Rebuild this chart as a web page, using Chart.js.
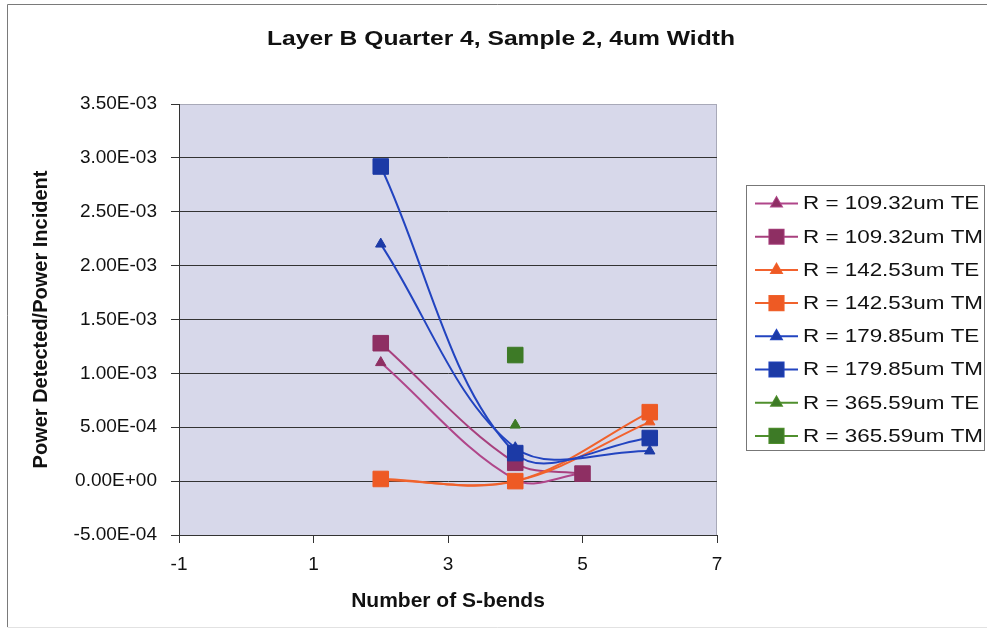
<!DOCTYPE html>
<html>
<head>
<meta charset="utf-8">
<title>Layer B Quarter 4, Sample 2, 4um Width</title>
<script src="https://cdn.jsdelivr.net/npm/chart.js@4"></script>
<style>
  body { margin: 0; background: #fff; }
</style>
</head>
<body>
<canvas id="sbendChart" width="987" height="631"></canvas>
<script>
// measured power ratio vs. number of S-bends
var seriesNames = [
  'R = 109.32um TE', 'R = 109.32um TM',
  'R = 142.53um TE', 'R = 142.53um TM',
  'R = 179.85um TE', 'R = 179.85um TM',
  'R = 365.59um TE', 'R = 365.59um TM'
];
var xR109 = [2, 4, 5];
var yR109TE = [1.10e-3, 1.5e-5, 7.0e-5];
var yR109TM = [1.28e-3, 1.7e-4, 7.0e-5];
var xR142 = [2, 4, 6];
var yR142TE = [1.0e-5, 0, 5.5e-4];
var yR142TM = [2.0e-5, 0, 6.4e-4];
var xR179 = [2, 4, 6];
var yR179TE = [2.20e-3, 3.1e-4, 2.8e-4];
var yR179TM = [2.92e-3, 2.6e-4, 4.0e-4];
var xR365 = [4];
var yR365TE = [5.2e-4];
var yR365TM = [1.17e-3];

var xTickLabels = ['-1', '1', '3', '5', '7'];
var yTickLabels = ['-5.00E-04', '0.00E+00', '5.00E-04', '1.00E-03', '1.50E-03',
                   '2.00E-03', '2.50E-03', '3.00E-03', '3.50E-03'];

var lineColors = ['#b0468a', '#a8407e', '#f2622e', '#f0622c', '#2244c0', '#2244c0', '#4f8f2d', '#4f8f2d'];
var markColors = ['#8e2f63', '#8e2f63', '#ee5a24', '#ee5a24', '#1c3aa6', '#1c3aa6', '#3d7a26', '#3d7a26'];
var markStyles = ['triangle', 'rect', 'triangle', 'rect', 'triangle', 'rect', 'triangle', 'rect'];

var FONT = '"Liberation Sans", Arial, sans-serif';

function toPoints(xs, ys) {
  return xs.map(function (x, i) { return { x: x, y: ys[i] }; });
}

var seriesX = [xR109, xR109, xR142, xR142, xR179, xR179, xR365, xR365];
var seriesY = [yR109TE, yR109TM, yR142TE, yR142TM, yR179TE, yR179TM, yR365TE, yR365TM];

var datasets = seriesNames.map(function (name, i) {
  return {
    label: name,
    data: toPoints(seriesX[i], seriesY[i]),
    showLine: true,
    tension: 0.35,
    borderColor: lineColors[i],
    borderWidth: 2,
    pointStyle: markStyles[i],
    pointRadius: markStyles[i] == 'rect' ? 11 : 6,
    pointBackgroundColor: markColors[i],
    pointBorderColor: markColors[i],
    pointBorderWidth: 1,
    order: -i
  };
});

// frame, plot background, title and legend
var decorPlugin = {
  id: 'decor',
  beforeDraw: function (chart) {
    var ctx = chart.ctx, a = chart.chartArea;
    ctx.save();
    ctx.fillStyle = '#fff';
    ctx.fillRect(0, 0, chart.width, chart.height);
    ctx.fillStyle = '#d7d8ea';
    ctx.fillRect(a.left, a.top, a.right - a.left, a.bottom - a.top);
    ctx.strokeStyle = '#a8a9b8';
    ctx.lineWidth = 1;
    ctx.strokeRect(a.left + 0.5, a.top + 0.5, a.right - a.left - 1, a.bottom - a.top);
    // outer frame
    ctx.strokeStyle = '#7a7a7a';
    ctx.beginPath();
    ctx.moveTo(7.5, 627);
    ctx.lineTo(7.5, 4.5);
    ctx.lineTo(chart.width, 4.5);
    ctx.stroke();
    ctx.strokeStyle = '#e2e2e2';
    ctx.beginPath();
    ctx.moveTo(7.5, 627.5);
    ctx.lineTo(chart.width, 627.5);
    ctx.stroke();
    ctx.restore();
  },
  afterDraw: function (chart) {
    var ctx = chart.ctx;
    ctx.save();
    ctx.fillStyle = '#111';
    ctx.textBaseline = 'middle';

    // title, stretched to its printed width
    var title = 'Layer B Quarter 4, Sample 2, 4um Width';
    ctx.font = 'bold 20px ' + FONT;
    var tw = ctx.measureText(title).width;
    ctx.translate(501, 39);
    ctx.scale(468 / tw, 1);
    ctx.textAlign = 'center';
    ctx.fillText(title, 0, 0);
    ctx.setTransform(1, 0, 0, 1, 0, 0);

    // legend box
    var bx = 746, by = 185, bw = 238, bh = 265;
    ctx.strokeStyle = '#777';
    ctx.lineWidth = 1;
    ctx.strokeRect(bx + 0.5, by + 0.5, bw, bh);

    ctx.font = '18px ' + FONT;
    ctx.textAlign = 'left';
    var sx = 180 / ctx.measureText('R = 109.32um TM').width;
    chart.data.datasets.forEach(function (ds, i) {
      var y = 203.5 + i * 33.2;
      ctx.strokeStyle = ds.borderColor;
      ctx.lineWidth = 2;
      ctx.beginPath();
      ctx.moveTo(755, y);
      ctx.lineTo(798, y);
      ctx.stroke();
      Chart.helpers.drawPoint(ctx, {
        pointStyle: ds.pointStyle,
        radius: ds.pointStyle == 'rect' ? 10 : 6,
        borderWidth: 1,
        rotation: 0
      }, 776.5, y);
      ctx.fillStyle = ds.pointBackgroundColor;
      ctx.strokeStyle = ds.pointBorderColor;
      ctx.fill();
      ctx.fillStyle = '#111';
      ctx.translate(803, y + 1);
      ctx.scale(sx, 1);
      ctx.fillText(ds.label, 0, 0);
      ctx.setTransform(1, 0, 0, 1, 0, 0);
    });
    ctx.restore();
  }
};

var gridDark = '#333333';

new Chart(document.getElementById('sbendChart'), {
  type: 'scatter',
  data: { datasets: datasets },
  options: {
    responsive: false,
    animation: false,
    layout: { padding: { top: 104, right: 270, left: 0, bottom: 0 } },
    plugins: {
      legend: { display: false },
      title: { display: false },
      tooltip: { enabled: false }
    },
    scales: {
      x: {
        type: 'linear',
        min: -1,
        max: 7,
        ticks: {
          stepSize: 2,
          padding: 10,
          color: '#111',
          font: { family: FONT, size: 19 },
          callback: function (v, i) { return xTickLabels[i]; }
        },
        grid: { drawOnChartArea: false, tickLength: 8, tickColor: gridDark },
        border: { color: gridDark, width: 1 },
        title: {
          display: true,
          text: 'Number of S-bends',
          color: '#111',
          font: { family: FONT, size: 21, weight: 'bold' },
          padding: { top: 0, bottom: 17 }
        },
        afterFit: function (s) { s.height = 96; }
      },
      y: {
        min: -5e-4,
        max: 3.5e-3,
        ticks: {
          stepSize: 5e-4,
          padding: 14,
          color: '#111',
          font: { family: FONT, size: 19 },
          callback: function (v, i) { return yTickLabels[i]; }
        },
        grid: {
          tickLength: 8,
          tickColor: gridDark,
          color: function (c) {
            return c.tick && c.tick.value > 3.4e-3 ? 'rgba(0,0,0,0)' : gridDark;
          }
        },
        border: { color: gridDark, width: 1 },
        title: {
          display: true,
          text: 'Power Detected/Power Incident',
          color: '#111',
          font: { family: FONT, size: 20, weight: 'bold' },
          padding: { top: 29, bottom: 0 }
        },
        afterFit: function (s) { s.width = 179; }
      }
    }
  },
  plugins: [decorPlugin]
});
</script>
</body>
</html>
